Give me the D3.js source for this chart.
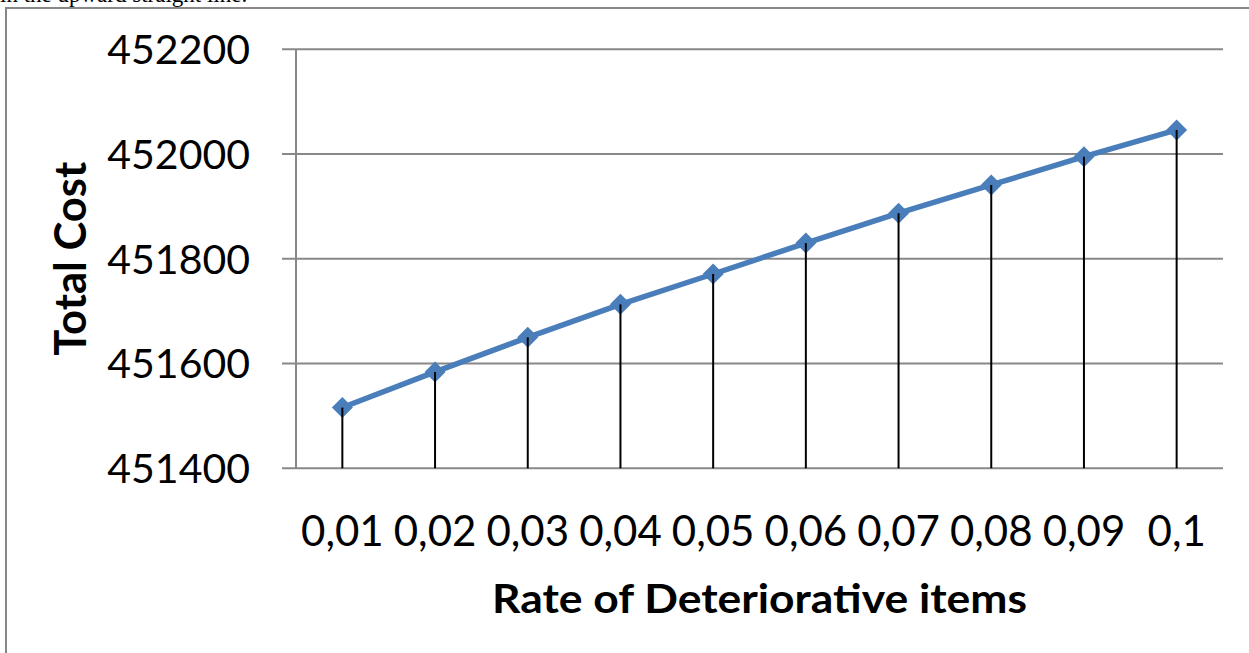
<!DOCTYPE html>
<html>
<head>
<meta charset="utf-8">
<script src="https://cdn.jsdelivr.net/npm/d3@7"></script>
<style>
  html, body { margin: 0; padding: 0; background: #fff; overflow: hidden; }
  svg { display: block; }
</style>
</head>
<body>
<svg id="chart" width="1249" height="653"></svg>
<script>
// Rate of deteriorative items vs. total cost
const rates = ["0,01", "0,02", "0,03", "0,04", "0,05", "0,06", "0,07", "0,08", "0,09", "0,1"];
const totalCost = [451516, 451584, 451650, 451713, 451771, 451830, 451887, 451941, 451995, 452046];
const yTicks = [451400, 451600, 451800, 452000, 452200];

const svg = d3.select("#chart");
const font = "Lato, 'Open Sans', sans-serif";

// caption text from the surrounding document, running off the top edge
svg.append("text")
  .attr("x", 0).attr("y", 2)
  .attr("font-family", "'Liberation Serif', 'Times New Roman', serif")
  .attr("font-size", 23)
  .attr("fill", "#000")
  .text("in the upward straight line.");

// chart frame
svg.append("rect")
  .attr("x", 6).attr("y", 8)
  .attr("width", 1300).attr("height", 700)
  .attr("fill", "#fff")
  .attr("stroke", "#878787").attr("stroke-width", 2);

const plot = { left: 296, right: 1223, top: 49.3, bottom: 468.3 };

const x = d3.scaleBand().domain(rates).range([plot.left, plot.right]).padding(0);
const y = d3.scaleLinear().domain([451400, 452200]).range([plot.bottom, plot.top]);
const cx = d => x(d) + x.bandwidth() / 2;

// horizontal gridlines with left tick marks
svg.append("g").selectAll("line").data(yTicks).join("line")
  .attr("x1", plot.left - 14).attr("x2", plot.right)
  .attr("y1", d => y(d)).attr("y2", d => y(d))
  .attr("stroke", "#888").attr("stroke-width", 2);

// vertical axis line
svg.append("line")
  .attr("x1", plot.left).attr("x2", plot.left)
  .attr("y1", y(452200)).attr("y2", y(451400))
  .attr("stroke", "#888").attr("stroke-width", 2);

// y tick labels
svg.append("g").selectAll("text").data(yTicks).join("text")
  .attr("x", 250).attr("y", d => y(d))
  .attr("dy", "0.36em")
  .attr("text-anchor", "end")
  .attr("font-family", font).attr("font-size", 41)
  .attr("fill", "#000")
  .text(d => d);

// x tick labels
svg.append("g").selectAll("text").data(rates).join("text")
  .attr("x", d => cx(d)).attr("y", 546)
  .attr("text-anchor", "middle")
  .attr("font-family", font).attr("font-size", 42)
  .attr("fill", "#000")
  .text(d => d);

// axis titles
svg.append("text")
  .attr("x", (plot.left + plot.right) / 2).attr("y", 613)
  .attr("text-anchor", "middle")
  .attr("font-family", font).attr("font-weight", "bold").attr("font-size", 41)
  .attr("textLength", 535).attr("lengthAdjust", "spacingAndGlyphs")
  .attr("fill", "#000")
  .text("Rate of Deteriorative items");

svg.append("text")
  .attr("transform", `translate(86, ${(plot.top + plot.bottom) / 2}) rotate(-90)`)
  .attr("text-anchor", "middle")
  .attr("font-family", font).attr("font-weight", "bold").attr("font-size", 43)
  .attr("textLength", 194).attr("lengthAdjust", "spacingAndGlyphs")
  .attr("fill", "#000")
  .text("Total Cost");

const pts = rates.map((r, i) => ({ r, v: totalCost[i] }));

// series line
svg.append("path")
  .datum(pts)
  .attr("d", d3.line().x(d => cx(d.r)).y(d => y(d.v)))
  .attr("fill", "none")
  .attr("stroke", "#4a7ebb").attr("stroke-width", 5.5)
  .attr("stroke-linejoin", "round");

// diamond markers
svg.append("g").selectAll("path").data(pts).join("path")
  .attr("transform", d => `translate(${cx(d.r)},${y(d.v)})`)
  .attr("d", "M0,-10.5L10.5,0L0,10.5L-10.5,0Z")
  .attr("fill", "#4a7ebb");

// drop lines from each point to the horizontal axis
svg.append("g").selectAll("line").data(pts).join("line")
  .attr("x1", d => cx(d.r)).attr("x2", d => cx(d.r))
  .attr("y1", d => y(d.v)).attr("y2", y(451400))
  .attr("stroke", "#000").attr("stroke-width", 2);
</script>
</body>
</html>
